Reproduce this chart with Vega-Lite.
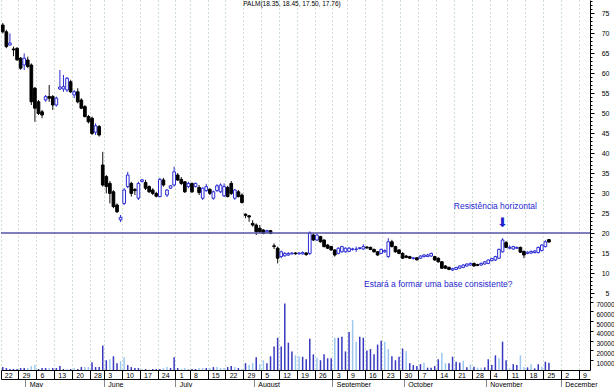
{
  "$schema": "https://vega.github.io/schema/vega-lite/v6.json",
  "padding": 0,
  "background": "white",
  "config": {
    "view": {"stroke": null},
    "concat": {"spacing": 0},
    "font": "Liberation Sans",
    "axis": {"labelFont": "Liberation Sans", "labelFontSize": 7, "labelColor": "#000", "domainColor": "#000", "tickColor": "#000", "title": null, "gridColor": "#98bf98", "gridDash": [1, 3], "gridWidth": 1, "gridOpacity": 1}
  },
  "datasets": {
    "px": [
      {"date":"2002-04-22","open":72.0,"high":72.5,"low":69.9,"close":70.3,"volume":3000,"side":"sell"},
      {"date":"2002-04-23","open":70.3,"high":70.8,"low":66.2,"close":66.6,"volume":2000,"side":"sell"},
      {"date":"2002-04-24","open":67.0,"high":69.9,"low":66.9,"close":67.5,"volume":1000,"side":"sell"},
      {"date":"2002-04-25","open":66.0,"high":66.6,"low":64.2,"close":65.8,"volume":1000,"side":"sell"},
      {"date":"2002-04-26","open":66.2,"high":66.4,"low":63.0,"close":63.3,"volume":1000,"side":"sell"},
      {"date":"2002-04-29","open":63.7,"high":64.0,"low":60.8,"close":61.2,"volume":2000,"side":"sell"},
      {"date":"2002-04-30","open":62.0,"high":64.9,"low":60.75,"close":63.7,"volume":2000,"side":"sell"},
      {"date":"2002-05-01","open":63.25,"high":64.1,"low":61.2,"close":61.6,"volume":2000,"side":"buy"},
      {"date":"2002-05-02","open":62.0,"high":62.4,"low":52.0,"close":52.8,"volume":4000,"side":"buy"},
      {"date":"2002-05-03","open":56.2,"high":56.5,"low":47.8,"close":51.2,"volume":5000,"side":"buy"},
      {"date":"2002-05-06","open":52.8,"high":53.25,"low":49.5,"close":49.9,"volume":1000,"side":"sell"},
      {"date":"2002-05-07","open":50.3,"high":50.75,"low":48.7,"close":49.5,"volume":2000,"side":"sell"},
      {"date":"2002-05-08","open":53.25,"high":54.5,"low":52.8,"close":54.1,"volume":2000,"side":"sell"},
      {"date":"2002-05-09","open":54.1,"high":57.0,"low":52.8,"close":53.7,"volume":2000,"side":"buy"},
      {"date":"2002-05-10","open":54.1,"high":54.5,"low":50.75,"close":52.0,"volume":2000,"side":"sell"},
      {"date":"2002-05-13","open":52.0,"high":54.1,"low":51.6,"close":53.7,"volume":2000,"side":"sell"},
      {"date":"2002-05-14","open":56.0,"high":60.75,"low":55.75,"close":56.5,"volume":4000,"side":"sell"},
      {"date":"2002-05-15","open":56.0,"high":59.5,"low":55.3,"close":56.6,"volume":1000,"side":"sell"},
      {"date":"2002-05-16","open":55.75,"high":59.0,"low":55.3,"close":58.7,"volume":1000,"side":"buy"},
      {"date":"2002-05-17","open":57.8,"high":58.3,"low":55.0,"close":55.3,"volume":1000,"side":"sell"},
      {"date":"2002-05-20","open":54.5,"high":55.75,"low":53.7,"close":55.3,"volume":2000,"side":"buy"},
      {"date":"2002-05-21","open":55.3,"high":56.2,"low":52.4,"close":52.8,"volume":1000,"side":"sell"},
      {"date":"2002-05-22","open":53.25,"high":53.7,"low":51.0,"close":51.2,"volume":3000,"side":"sell"},
      {"date":"2002-05-23","open":51.6,"high":52.0,"low":48.9,"close":49.1,"volume":3000,"side":"buy"},
      {"date":"2002-05-24","open":49.1,"high":49.5,"low":47.4,"close":47.8,"volume":3000,"side":"buy"},
      {"date":"2002-05-28","open":48.7,"high":49.1,"low":44.5,"close":44.9,"volume":8000,"side":"sell"},
      {"date":"2002-05-29","open":45.2,"high":47.4,"low":44.5,"close":46.8,"volume":3000,"side":"sell"},
      {"date":"2002-05-30","open":46.6,"high":47.0,"low":44.1,"close":44.5,"volume":3000,"side":"sell"},
      {"date":"2002-05-31","open":37.0,"high":40.3,"low":31.6,"close":32.0,"volume":25000,"side":"sell"},
      {"date":"2002-06-03","open":34.1,"high":34.5,"low":29.9,"close":31.6,"volume":10000,"side":"sell"},
      {"date":"2002-06-04","open":32.4,"high":33.0,"low":27.4,"close":29.9,"volume":11000,"side":"buy"},
      {"date":"2002-06-05","open":30.3,"high":30.7,"low":26.2,"close":26.6,"volume":14000,"side":"sell"},
      {"date":"2002-06-06","open":27.0,"high":27.4,"low":25.0,"close":25.3,"volume":7000,"side":"sell"},
      {"date":"2002-06-07","open":23.3,"high":24.5,"low":22.75,"close":23.9,"volume":9000,"side":"buy"},
      {"date":"2002-06-10","open":27.4,"high":31.2,"low":27.0,"close":30.75,"volume":13000,"side":"buy"},
      {"date":"2002-06-11","open":31.6,"high":35.3,"low":31.2,"close":34.5,"volume":5000,"side":"sell"},
      {"date":"2002-06-12","open":32.4,"high":32.8,"low":29.1,"close":29.9,"volume":3000,"side":"sell"},
      {"date":"2002-06-13","open":30.9,"high":31.2,"low":29.5,"close":30.6,"volume":2000,"side":"sell"},
      {"date":"2002-06-14","open":28.7,"high":32.8,"low":28.25,"close":32.4,"volume":2000,"side":"sell"},
      {"date":"2002-06-17","open":32.9,"high":33.5,"low":32.6,"close":33.3,"volume":1000,"side":"buy"},
      {"date":"2002-06-18","open":32.6,"high":33.3,"low":30.75,"close":31.2,"volume":1000,"side":"sell"},
      {"date":"2002-06-19","open":31.6,"high":31.9,"low":30.0,"close":30.3,"volume":500,"side":"buy"},
      {"date":"2002-06-20","open":30.75,"high":31.2,"low":29.5,"close":29.9,"volume":1000,"side":"sell"},
      {"date":"2002-06-21","open":29.9,"high":30.3,"low":28.9,"close":29.2,"volume":1000,"side":"sell"},
      {"date":"2002-06-24","open":29.1,"high":33.8,"low":28.9,"close":33.4,"volume":1000,"side":"sell"},
      {"date":"2002-06-25","open":33.25,"high":33.8,"low":31.6,"close":32.0,"volume":2000,"side":"buy"},
      {"date":"2002-06-26","open":29.5,"high":31.0,"low":29.0,"close":30.75,"volume":3000,"side":"buy"},
      {"date":"2002-06-27","open":31.2,"high":32.0,"low":31.0,"close":31.8,"volume":2000,"side":"sell"},
      {"date":"2002-06-28","open":32.0,"high":36.6,"low":31.6,"close":35.3,"volume":13000,"side":"sell"},
      {"date":"2002-07-01","open":34.5,"high":35.0,"low":33.0,"close":33.25,"volume":2000,"side":"sell"},
      {"date":"2002-07-02","open":33.4,"high":34.0,"low":32.0,"close":32.4,"volume":1000,"side":"buy"},
      {"date":"2002-07-03","open":32.8,"high":33.0,"low":30.0,"close":30.3,"volume":2000,"side":"buy"},
      {"date":"2002-07-05","open":31.6,"high":32.8,"low":31.2,"close":32.4,"volume":500,"side":"sell"},
      {"date":"2002-07-08","open":32.4,"high":32.6,"low":30.0,"close":30.3,"volume":1000,"side":"sell"},
      {"date":"2002-07-09","open":31.6,"high":32.6,"low":31.4,"close":32.4,"volume":1000,"side":"sell"},
      {"date":"2002-07-10","open":31.4,"high":32.0,"low":29.5,"close":30.1,"volume":2000,"side":"buy"},
      {"date":"2002-07-11","open":28.7,"high":31.4,"low":28.25,"close":31.2,"volume":2000,"side":"buy"},
      {"date":"2002-07-12","open":30.6,"high":32.3,"low":30.3,"close":31.6,"volume":2000,"side":"sell"},
      {"date":"2002-07-15","open":30.9,"high":31.2,"low":29.5,"close":29.9,"volume":2000,"side":"buy"},
      {"date":"2002-07-16","open":28.7,"high":30.6,"low":28.3,"close":30.3,"volume":3000,"side":"sell"},
      {"date":"2002-07-17","open":30.6,"high":32.2,"low":30.3,"close":31.8,"volume":3000,"side":"buy"},
      {"date":"2002-07-18","open":30.3,"high":32.4,"low":30.0,"close":32.0,"volume":2000,"side":"buy"},
      {"date":"2002-07-19","open":29.3,"high":32.4,"low":29.0,"close":31.6,"volume":2000,"side":"buy"},
      {"date":"2002-07-22","open":31.4,"high":31.8,"low":28.9,"close":29.1,"volume":3000,"side":"sell"},
      {"date":"2002-07-23","open":32.4,"high":33.0,"low":29.5,"close":29.9,"volume":4000,"side":"sell"},
      {"date":"2002-07-24","open":28.7,"high":31.0,"low":28.3,"close":30.75,"volume":3000,"side":"buy"},
      {"date":"2002-07-25","open":30.3,"high":30.75,"low":28.9,"close":29.1,"volume":2000,"side":"sell"},
      {"date":"2002-07-26","open":29.5,"high":29.9,"low":27.4,"close":27.6,"volume":1000,"side":"buy"},
      {"date":"2002-07-29","open":24.7,"high":24.9,"low":23.7,"close":24.4,"volume":7000,"side":"sell"},
      {"date":"2002-07-30","open":24.3,"high":24.5,"low":22.8,"close":24.0,"volume":5000,"side":"buy"},
      {"date":"2002-07-31","open":22.4,"high":23.2,"low":21.6,"close":22.0,"volume":7000,"side":"buy"},
      {"date":"2002-08-01","open":22.0,"high":22.4,"low":19.5,"close":20.3,"volume":13000,"side":"sell"},
      {"date":"2002-08-02","open":21.2,"high":22.0,"low":20.0,"close":20.3,"volume":6000,"side":"buy"},
      {"date":"2002-08-05","open":20.75,"high":21.0,"low":19.7,"close":19.9,"volume":10000,"side":"buy"},
      {"date":"2002-08-06","open":20.3,"high":20.8,"low":20.0,"close":20.6,"volume":7000,"side":"sell"},
      {"date":"2002-08-07","open":20.6,"high":20.75,"low":19.7,"close":19.9,"volume":14000,"side":"sell"},
      {"date":"2002-08-08","open":16.8,"high":17.4,"low":16.0,"close":16.6,"volume":24000,"side":"sell"},
      {"date":"2002-08-09","open":16.2,"high":16.6,"low":12.4,"close":13.7,"volume":33000,"side":"sell"},
      {"date":"2002-08-12","open":14.1,"high":15.6,"low":13.7,"close":15.3,"volume":24000,"side":"sell"},
      {"date":"2002-08-13","open":14.3,"high":15.2,"low":14.1,"close":14.9,"volume":68000,"side":"sell"},
      {"date":"2002-08-14","open":14.5,"high":15.2,"low":14.3,"close":14.9,"volume":28000,"side":"sell"},
      {"date":"2002-08-15","open":14.8,"high":15.2,"low":14.6,"close":15.0,"volume":19000,"side":"sell"},
      {"date":"2002-08-16","open":15.0,"high":15.2,"low":14.6,"close":14.8,"volume":15000,"side":"buy"},
      {"date":"2002-08-19","open":14.8,"high":15.2,"low":14.6,"close":15.0,"volume":14000,"side":"buy"},
      {"date":"2002-08-20","open":14.8,"high":15.4,"low":14.6,"close":15.1,"volume":13600,"side":"sell"},
      {"date":"2002-08-21","open":15.0,"high":15.2,"low":14.3,"close":14.6,"volume":11000,"side":"sell"},
      {"date":"2002-08-22","open":14.9,"high":20.4,"low":14.5,"close":20.0,"volume":32000,"side":"sell"},
      {"date":"2002-08-23","open":19.5,"high":19.9,"low":18.0,"close":18.25,"volume":16000,"side":"sell"},
      {"date":"2002-08-26","open":18.25,"high":19.7,"low":18.0,"close":19.5,"volume":12600,"side":"buy"},
      {"date":"2002-08-27","open":19.1,"high":19.3,"low":17.6,"close":17.8,"volume":10000,"side":"sell"},
      {"date":"2002-08-28","open":18.25,"high":18.4,"low":16.4,"close":16.6,"volume":16000,"side":"sell"},
      {"date":"2002-08-29","open":17.0,"high":17.2,"low":16.0,"close":16.2,"volume":12000,"side":"sell"},
      {"date":"2002-08-30","open":16.6,"high":16.8,"low":15.6,"close":15.75,"volume":12000,"side":"sell"},
      {"date":"2002-09-03","open":15.75,"high":16.0,"low":14.1,"close":14.5,"volume":33000,"side":"buy"},
      {"date":"2002-09-04","open":14.9,"high":16.4,"low":14.7,"close":16.2,"volume":33000,"side":"sell"},
      {"date":"2002-09-05","open":15.3,"high":16.8,"low":15.1,"close":16.6,"volume":34000,"side":"sell"},
      {"date":"2002-09-06","open":15.3,"high":16.4,"low":15.1,"close":16.2,"volume":19000,"side":"sell"},
      {"date":"2002-09-09","open":15.4,"high":16.5,"low":15.2,"close":16.2,"volume":39000,"side":"sell"},
      {"date":"2002-09-10","open":15.9,"high":16.3,"low":15.6,"close":16.0,"volume":51000,"side":"buy"},
      {"date":"2002-09-11","open":15.9,"high":16.6,"low":15.3,"close":16.0,"volume":29000,"side":"buy"},
      {"date":"2002-09-12","open":16.1,"high":16.5,"low":15.9,"close":16.3,"volume":34000,"side":"sell"},
      {"date":"2002-09-13","open":16.0,"high":17.2,"low":15.8,"close":16.6,"volume":33000,"side":"sell"},
      {"date":"2002-09-16","open":16.5,"high":16.7,"low":16.0,"close":16.3,"volume":20000,"side":"sell"},
      {"date":"2002-09-17","open":16.4,"high":16.6,"low":15.7,"close":15.9,"volume":21500,"side":"sell"},
      {"date":"2002-09-18","open":15.9,"high":16.1,"low":15.1,"close":15.3,"volume":16000,"side":"sell"},
      {"date":"2002-09-19","open":15.3,"high":15.5,"low":14.3,"close":14.5,"volume":26000,"side":"sell"},
      {"date":"2002-09-20","open":14.9,"high":16.1,"low":14.7,"close":15.9,"volume":30000,"side":"sell"},
      {"date":"2002-09-23","open":15.3,"high":15.9,"low":15.1,"close":15.6,"volume":29000,"side":"buy"},
      {"date":"2002-09-24","open":14.1,"high":18.7,"low":13.8,"close":17.8,"volume":21500,"side":"buy"},
      {"date":"2002-09-25","open":17.8,"high":18.3,"low":16.4,"close":16.6,"volume":14000,"side":"sell"},
      {"date":"2002-09-26","open":16.6,"high":16.8,"low":15.1,"close":15.3,"volume":10000,"side":"sell"},
      {"date":"2002-09-27","open":15.75,"high":16.0,"low":14.7,"close":14.9,"volume":13600,"side":"sell"},
      {"date":"2002-09-30","open":14.9,"high":15.2,"low":13.5,"close":13.7,"volume":22000,"side":"sell"},
      {"date":"2002-10-01","open":14.25,"high":14.5,"low":13.7,"close":13.9,"volume":19500,"side":"buy"},
      {"date":"2002-10-02","open":14.1,"high":14.3,"low":13.5,"close":13.7,"volume":7000,"side":"sell"},
      {"date":"2002-10-03","open":13.6,"high":14.0,"low":13.4,"close":13.8,"volume":5000,"side":"sell"},
      {"date":"2002-10-04","open":13.8,"high":14.0,"low":13.1,"close":13.3,"volume":4000,"side":"sell"},
      {"date":"2002-10-07","open":13.7,"high":14.4,"low":13.5,"close":14.25,"volume":6000,"side":"sell"},
      {"date":"2002-10-08","open":14.1,"high":14.7,"low":13.9,"close":14.5,"volume":7500,"side":"buy"},
      {"date":"2002-10-09","open":14.1,"high":14.8,"low":14.0,"close":14.5,"volume":2400,"side":"sell"},
      {"date":"2002-10-10","open":14.25,"high":15.1,"low":14.0,"close":14.9,"volume":2400,"side":"sell"},
      {"date":"2002-10-11","open":14.1,"high":14.3,"low":13.1,"close":13.25,"volume":4000,"side":"sell"},
      {"date":"2002-10-14","open":13.7,"high":13.9,"low":12.6,"close":12.8,"volume":11000,"side":"sell"},
      {"date":"2002-10-15","open":12.8,"high":13.0,"low":11.0,"close":11.2,"volume":17700,"side":"buy"},
      {"date":"2002-10-16","open":11.75,"high":12.0,"low":11.0,"close":11.2,"volume":7000,"side":"buy"},
      {"date":"2002-10-17","open":11.4,"high":11.6,"low":10.7,"close":10.9,"volume":7000,"side":"sell"},
      {"date":"2002-10-18","open":10.75,"high":11.3,"low":10.5,"close":11.1,"volume":13600,"side":"sell"},
      {"date":"2002-10-21","open":10.9,"high":11.5,"low":10.7,"close":11.4,"volume":8500,"side":"sell"},
      {"date":"2002-10-22","open":11.2,"high":11.9,"low":11.0,"close":11.75,"volume":7500,"side":"sell"},
      {"date":"2002-10-23","open":11.4,"high":12.2,"low":11.2,"close":12.0,"volume":9500,"side":"buy"},
      {"date":"2002-10-24","open":11.75,"high":12.4,"low":11.6,"close":12.25,"volume":2700,"side":"sell"},
      {"date":"2002-10-25","open":12.0,"high":12.6,"low":11.8,"close":12.4,"volume":5800,"side":"buy"},
      {"date":"2002-10-28","open":12.4,"high":12.6,"low":11.6,"close":11.75,"volume":3400,"side":"sell"},
      {"date":"2002-10-29","open":12.1,"high":12.3,"low":11.7,"close":11.9,"volume":2400,"side":"buy"},
      {"date":"2002-10-30","open":12.0,"high":12.6,"low":11.8,"close":12.4,"volume":2400,"side":"buy"},
      {"date":"2002-10-31","open":12.25,"high":13.0,"low":12.1,"close":12.8,"volume":2700,"side":"sell"},
      {"date":"2002-11-01","open":12.4,"high":13.4,"low":12.2,"close":13.25,"volume":11000,"side":"sell"},
      {"date":"2002-11-04","open":13.1,"high":13.8,"low":12.9,"close":13.6,"volume":5000,"side":"sell"},
      {"date":"2002-11-05","open":13.25,"high":14.3,"low":13.0,"close":14.1,"volume":15000,"side":"sell"},
      {"date":"2002-11-06","open":13.7,"high":16.1,"low":13.5,"close":15.9,"volume":12000,"side":"buy"},
      {"date":"2002-11-07","open":15.3,"high":18.7,"low":15.1,"close":18.25,"volume":29000,"side":"sell"},
      {"date":"2002-11-08","open":17.6,"high":18.0,"low":16.2,"close":16.4,"volume":10000,"side":"sell"},
      {"date":"2002-11-11","open":16.2,"high":16.9,"low":15.9,"close":16.4,"volume":1700,"side":"buy"},
      {"date":"2002-11-12","open":16.0,"high":16.8,"low":15.8,"close":16.6,"volume":6000,"side":"sell"},
      {"date":"2002-11-13","open":16.2,"high":16.6,"low":16.0,"close":16.4,"volume":5000,"side":"sell"},
      {"date":"2002-11-14","open":16.4,"high":16.6,"low":15.0,"close":15.2,"volume":15000,"side":"buy"},
      {"date":"2002-11-15","open":15.4,"high":15.6,"low":13.7,"close":14.5,"volume":2700,"side":"buy"},
      {"date":"2002-11-18","open":14.9,"high":15.4,"low":14.7,"close":15.2,"volume":2700,"side":"sell"},
      {"date":"2002-11-19","open":15.0,"high":15.6,"low":14.8,"close":15.4,"volume":5800,"side":"buy"},
      {"date":"2002-11-20","open":15.1,"high":15.7,"low":14.9,"close":15.5,"volume":1700,"side":"sell"},
      {"date":"2002-11-21","open":15.1,"high":16.6,"low":14.9,"close":16.4,"volume":6000,"side":"sell"},
      {"date":"2002-11-22","open":15.6,"high":17.2,"low":15.4,"close":17.0,"volume":3400,"side":"buy"},
      {"date":"2002-11-25","open":16.6,"high":18.2,"low":16.4,"close":17.8,"volume":8500,"side":"sell"},
      {"date":"2002-11-26","open":18.35,"high":18.45,"low":17.5,"close":17.76,"volume":7500,"side":"sell"}
    ]
  },
  "vconcat": [
    {
      "width": 589,
      "height": 300,
      "data": {"name": "px"},
      "layer": [
        {
          "mark": {"type": "rule", "strokeWidth": 1},
          "encoding": {
            "x": {
              "field": "date", "type": "ordinal",
              "scale": {"type": "band", "paddingInner": 0, "paddingOuter": 0, "domain": ["2002-04-22","2002-04-23","2002-04-24","2002-04-25","2002-04-26","2002-04-29","2002-04-30","2002-05-01","2002-05-02","2002-05-03","2002-05-06","2002-05-07","2002-05-08","2002-05-09","2002-05-10","2002-05-13","2002-05-14","2002-05-15","2002-05-16","2002-05-17","2002-05-20","2002-05-21","2002-05-22","2002-05-23","2002-05-24","2002-05-28","2002-05-29","2002-05-30","2002-05-31","2002-06-03","2002-06-04","2002-06-05","2002-06-06","2002-06-07","2002-06-10","2002-06-11","2002-06-12","2002-06-13","2002-06-14","2002-06-17","2002-06-18","2002-06-19","2002-06-20","2002-06-21","2002-06-24","2002-06-25","2002-06-26","2002-06-27","2002-06-28","2002-07-01","2002-07-02","2002-07-03","2002-07-05","2002-07-08","2002-07-09","2002-07-10","2002-07-11","2002-07-12","2002-07-15","2002-07-16","2002-07-17","2002-07-18","2002-07-19","2002-07-22","2002-07-23","2002-07-24","2002-07-25","2002-07-26","2002-07-29","2002-07-30","2002-07-31","2002-08-01","2002-08-02","2002-08-05","2002-08-06","2002-08-07","2002-08-08","2002-08-09","2002-08-12","2002-08-13","2002-08-14","2002-08-15","2002-08-16","2002-08-19","2002-08-20","2002-08-21","2002-08-22","2002-08-23","2002-08-26","2002-08-27","2002-08-28","2002-08-29","2002-08-30","2002-09-03","2002-09-04","2002-09-05","2002-09-06","2002-09-09","2002-09-10","2002-09-11","2002-09-12","2002-09-13","2002-09-16","2002-09-17","2002-09-18","2002-09-19","2002-09-20","2002-09-23","2002-09-24","2002-09-25","2002-09-26","2002-09-27","2002-09-30","2002-10-01","2002-10-02","2002-10-03","2002-10-04","2002-10-07","2002-10-08","2002-10-09","2002-10-10","2002-10-11","2002-10-14","2002-10-15","2002-10-16","2002-10-17","2002-10-18","2002-10-21","2002-10-22","2002-10-23","2002-10-24","2002-10-25","2002-10-28","2002-10-29","2002-10-30","2002-10-31","2002-11-01","2002-11-04","2002-11-05","2002-11-06","2002-11-07","2002-11-08","2002-11-11","2002-11-12","2002-11-13","2002-11-14","2002-11-15","2002-11-18","2002-11-19","2002-11-20","2002-11-21","2002-11-22","2002-11-25","2002-11-26","2002-11-27","2002-11-28","2002-11-29","2002-12-02","2002-12-03","2002-12-04","2002-12-05","2002-12-06","2002-12-09","2002-12-10","2002-12-11"]},
              "axis": {"values": ["2002-04-22","2002-04-29","2002-05-06","2002-05-13","2002-05-20","2002-05-28","2002-06-03","2002-06-10","2002-06-17","2002-06-24","2002-07-01","2002-07-08","2002-07-15","2002-07-22","2002-07-29","2002-08-05","2002-08-12","2002-08-19","2002-08-26","2002-09-03","2002-09-09","2002-09-16","2002-09-23","2002-09-30","2002-10-07","2002-10-14","2002-10-21","2002-10-28","2002-11-04","2002-11-11","2002-11-18","2002-11-25","2002-12-02","2002-12-09"], "bandPosition": 0, "grid": true, "labels": false, "ticks": false, "domain": false, "title": null}
            },
            "y": {"field": "low", "type": "quantitative", "scale": {"domain": [3.25, 78.25], "nice": false, "zero": false}, "axis": {"orient": "right", "values": [4,5,6,7,8,9,10,11,12,13,14,15,16,17,18,19,20,21,22,23,24,25,26,27,28,29,30,31,32,33,34,35,36,37,38,39,40,41,42,43,44,45,46,47,48,49,50,51,52,53,54,55,56,57,58,59,60,61,62,63,64,65,66,67,68,69,70,71,72,73,74,75,76,77,78], "labels": false, "tickSize": 2, "domain": false, "grid": false, "title": null}},
            "y2": {"field": "high"},
            "color": {"condition": {"test": "datum.close >= datum.open", "value": "#2b2bd4"}, "value": "#111111"}
          }
        },
        {
          "mark": {"type": "bar", "width": {"band": 0.75}, "strokeWidth": 1},
          "encoding": {
            "x": {"field": "date", "type": "ordinal"},
            "y": {"field": "open", "type": "quantitative", "axis": {"orient": "right", "values": [5,10,15,20,25,30,35,40,45,50,55,60,65,70,75], "tickSize": 4, "labelPadding": 15, "labelAlign": "right", "grid": false, "title": null}},
            "y2": {"field": "close"},
            "fill": {"condition": {"test": "datum.close >= datum.open", "value": "#ffffff"}, "value": "#000000"},
            "stroke": {"condition": {"test": "datum.close >= datum.open", "value": "#2b2bd4"}, "value": "#000000"}
          }
        },
        {
          "data": {"values": [{}]},
          "mark": {"type": "rule", "color": "#5656a8", "strokeWidth": 1.5},
          "encoding": {"y": {"datum": 20, "type": "quantitative", "axis": null}}
        },
        {
          "data": {"values": [{"label": "PALM(18.35, 18.45, 17.50, 17.76)"}]},
          "mark": {"type": "text", "fontSize": 6.5, "color": "#000", "align": "center", "baseline": "middle"},
          "encoding": {"x": {"datum": "2002-08-15", "type": "ordinal"}, "y": {"datum": 77.3, "type": "quantitative", "axis": null}, "text": {"field": "label"}}
        },
        {
          "data": {"values": [{"label": "Resistência horizontal"}]},
          "mark": {"type": "text", "fontSize": 8.5, "color": "#1f1fd0", "align": "center", "baseline": "middle"},
          "encoding": {"x": {"datum": "2002-11-05", "type": "ordinal"}, "y": {"datum": 26.8, "type": "quantitative", "axis": null}, "text": {"field": "label"}}
        },
        {
          "data": {"values": [{"label": "⬇"}]},
          "mark": {"type": "text", "fontSize": 13, "font": "DejaVu Sans", "color": "#1f1fd0", "align": "center", "baseline": "middle"},
          "encoding": {"x": {"datum": "2002-11-07", "type": "ordinal"}, "y": {"datum": 22.5, "type": "quantitative", "axis": null}, "text": {"field": "label"}}
        },
        {
          "data": {"values": [{"label": "Estará a formar uma base consistente?"}]},
          "mark": {"type": "text", "fontSize": 8.5, "color": "#1f1fd0", "align": "center", "baseline": "middle"},
          "encoding": {"x": {"datum": "2002-10-14", "type": "ordinal"}, "y": {"datum": 7.25, "type": "quantitative", "axis": null}, "text": {"field": "label"}}
        }
      ],
      "resolve": {"axis": {"y": "independent"}}
    },
    {
      "width": 589,
      "height": 70,
      "data": {"name": "px"},
      "layer": [
        {
          "mark": {"type": "bar", "width": 1.5},
          "encoding": {
            "x": {
              "field": "date", "type": "ordinal",
              "scale": {"type": "band", "paddingInner": 0, "paddingOuter": 0, "domain": ["2002-04-22","2002-04-23","2002-04-24","2002-04-25","2002-04-26","2002-04-29","2002-04-30","2002-05-01","2002-05-02","2002-05-03","2002-05-06","2002-05-07","2002-05-08","2002-05-09","2002-05-10","2002-05-13","2002-05-14","2002-05-15","2002-05-16","2002-05-17","2002-05-20","2002-05-21","2002-05-22","2002-05-23","2002-05-24","2002-05-28","2002-05-29","2002-05-30","2002-05-31","2002-06-03","2002-06-04","2002-06-05","2002-06-06","2002-06-07","2002-06-10","2002-06-11","2002-06-12","2002-06-13","2002-06-14","2002-06-17","2002-06-18","2002-06-19","2002-06-20","2002-06-21","2002-06-24","2002-06-25","2002-06-26","2002-06-27","2002-06-28","2002-07-01","2002-07-02","2002-07-03","2002-07-05","2002-07-08","2002-07-09","2002-07-10","2002-07-11","2002-07-12","2002-07-15","2002-07-16","2002-07-17","2002-07-18","2002-07-19","2002-07-22","2002-07-23","2002-07-24","2002-07-25","2002-07-26","2002-07-29","2002-07-30","2002-07-31","2002-08-01","2002-08-02","2002-08-05","2002-08-06","2002-08-07","2002-08-08","2002-08-09","2002-08-12","2002-08-13","2002-08-14","2002-08-15","2002-08-16","2002-08-19","2002-08-20","2002-08-21","2002-08-22","2002-08-23","2002-08-26","2002-08-27","2002-08-28","2002-08-29","2002-08-30","2002-09-03","2002-09-04","2002-09-05","2002-09-06","2002-09-09","2002-09-10","2002-09-11","2002-09-12","2002-09-13","2002-09-16","2002-09-17","2002-09-18","2002-09-19","2002-09-20","2002-09-23","2002-09-24","2002-09-25","2002-09-26","2002-09-27","2002-09-30","2002-10-01","2002-10-02","2002-10-03","2002-10-04","2002-10-07","2002-10-08","2002-10-09","2002-10-10","2002-10-11","2002-10-14","2002-10-15","2002-10-16","2002-10-17","2002-10-18","2002-10-21","2002-10-22","2002-10-23","2002-10-24","2002-10-25","2002-10-28","2002-10-29","2002-10-30","2002-10-31","2002-11-01","2002-11-04","2002-11-05","2002-11-06","2002-11-07","2002-11-08","2002-11-11","2002-11-12","2002-11-13","2002-11-14","2002-11-15","2002-11-18","2002-11-19","2002-11-20","2002-11-21","2002-11-22","2002-11-25","2002-11-26","2002-11-27","2002-11-28","2002-11-29","2002-12-02","2002-12-03","2002-12-04","2002-12-05","2002-12-06","2002-12-09","2002-12-10","2002-12-11"]},
              "axis": {"values": ["2002-04-22","2002-04-29","2002-05-06","2002-05-13","2002-05-20","2002-05-28","2002-06-03","2002-06-10","2002-06-17","2002-06-24","2002-07-01","2002-07-08","2002-07-15","2002-07-22","2002-07-29","2002-08-05","2002-08-12","2002-08-19","2002-08-26","2002-09-03","2002-09-09","2002-09-16","2002-09-23","2002-09-30","2002-10-07","2002-10-14","2002-10-21","2002-10-28","2002-11-04","2002-11-11","2002-11-18","2002-11-25","2002-12-02","2002-12-09"], "bandPosition": 0, "grid": true, "labelExpr": "toNumber(substring(datum.value, 8, 10)) + ''", "labelAlign": "left", "labelBaseline": "top", "labelAngle": 0, "labelOffset": 2, "labelPadding": -8, "tickSize": 9, "labelOverlap": false, "labelFlush": false, "title": null}
            },
            "y": {"field": "volume", "type": "quantitative", "scale": {"domain": [0, 71650], "nice": false}, "axis": {"orient": "right", "values": [10000,20000,30000,40000,50000,60000,70000], "format": "d", "tickSize": 3, "labelPadding": 21, "labelAlign": "right", "labelOffset": 3, "labelFontSize": 6.5, "grid": false, "title": null}},
            "color": {"field": "side", "type": "nominal", "scale": {"domain": ["sell", "buy"], "range": ["#3838c0", "#9cc8f0"]}, "legend": null}
          }
        },
        {
          "mark": {"type": "rule", "opacity": 0},
          "encoding": {
            "x": {"field": "date", "type": "ordinal", "axis": {"orient": "bottom", "offset": 9, "values": ["2002-05-01","2002-06-03","2002-07-01","2002-08-01","2002-09-03","2002-10-01","2002-11-01","2002-12-02"], "bandPosition": 0, "grid": false, "labelExpr": "['January','February','March','April','May','June','July','August','September','October','November','December'][toNumber(substring(datum.value, 5, 7)) - 1]", "labelAlign": "left", "labelBaseline": "top", "labelAngle": 0, "labelOffset": 2, "labelPadding": -8, "tickSize": 9, "tickColor": "#888888", "labelOverlap": false, "labelFlush": false, "title": null}}
          }
        }
      ],
      "resolve": {"axis": {"x": "independent"}}
    }
  ]
}
